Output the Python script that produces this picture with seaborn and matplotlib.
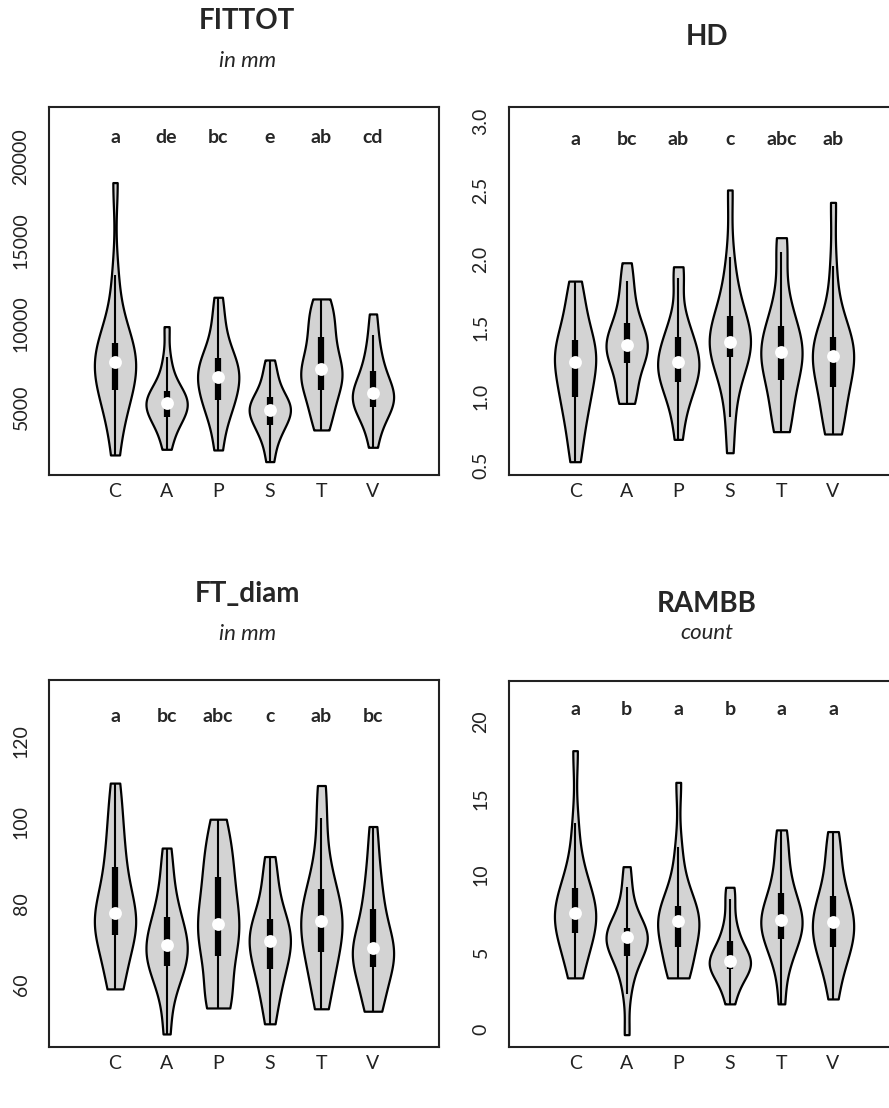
import numpy as np
import pandas as pd
import matplotlib
matplotlib.use("Agg")
import matplotlib.pyplot as plt
import matplotlib.cbook as cbook
import seaborn as sns

groups = ["C", "A", "P", "S", "T", "V"]

# sample values per group (order C, A, P, S, T, V)
fittot = [
    [2146, 3900, 4900, 5600, 6038, 6500, 6900, 7300, 7735, 7950, 8200, 8500, 8832, 9500, 10600, 12924, 18453],
    [2485, 3300, 3900, 4200, 4441, 4700, 4950, 5100, 5240, 5400, 5600, 5800, 5998, 6400, 7000, 8000, 9830],
    [2445, 3800, 4600, 5100, 5439, 5800, 6200, 6550, 6836, 7100, 7400, 7700, 7934, 8500, 9300, 10300, 11587],
    [1747, 2700, 3300, 3700, 3942, 4250, 4500, 4700, 4840, 5000, 5200, 5400, 5639, 6000, 6500, 7100, 7834],
    [3643, 4300, 5000, 5600, 6038, 6500, 6800, 7050, 7275, 7600, 8100, 8700, 9232, 9800, 10400, 11000, 11487],
    [2605, 3700, 4300, 4700, 5040, 5250, 5450, 5650, 5838, 6050, 6350, 6750, 7196, 7700, 8400, 9300, 10589],
]
hd = [
    [0.529, 0.70, 0.82, 0.92, 0.996, 1.06, 1.12, 1.19, 1.25, 1.29, 1.33, 1.37, 1.411, 1.50, 1.60, 1.71, 1.839],
    [0.952, 0.99, 1.07, 1.17, 1.247, 1.29, 1.32, 1.35, 1.375, 1.40, 1.44, 1.49, 1.537, 1.62, 1.72, 1.84, 1.972],
    [0.691, 0.88, 0.98, 1.05, 1.109, 1.15, 1.19, 1.22, 1.25, 1.28, 1.32, 1.38, 1.431, 1.50, 1.58, 1.86, 1.943],
    [0.594, 0.855, 1.05, 1.18, 1.286, 1.32, 1.35, 1.375, 1.395, 1.42, 1.46, 1.52, 1.586, 1.68, 1.80, 2.016, 2.5],
    [0.747, 0.80, 0.92, 1.03, 1.121, 1.18, 1.24, 1.29, 1.327, 1.36, 1.40, 1.46, 1.515, 1.62, 1.75, 2.05, 2.154],
    [0.730, 0.77, 0.88, 0.98, 1.068, 1.14, 1.20, 1.25, 1.298, 1.33, 1.36, 1.40, 1.431, 1.52, 1.65, 1.95, 2.41],
]
ft_diam = [
    [59.0, 61.5, 66.0, 70.0, 72.2, 73.5, 74.8, 76.2, 77.7, 79.5, 82.0, 85.5, 89.0, 93.0, 97.5, 103.0, 109.7],
    [47.9, 56.0, 60.5, 62.8, 64.6, 66.0, 67.3, 68.6, 69.9, 71.3, 72.9, 74.7, 76.7, 79.5, 83.0, 88.0, 93.7],
    [54.3, 54.9, 57.0, 61.5, 67.0, 69.5, 71.5, 73.3, 75.0, 77.5, 80.0, 83.0, 86.5, 89.5, 92.5, 96.5, 100.8],
    [50.4, 55.5, 59.0, 61.8, 63.9, 66.0, 67.8, 69.3, 70.7, 72.0, 73.4, 74.8, 76.3, 79.0, 82.5, 87.0, 91.6],
    [54.1, 58.5, 62.5, 65.5, 68.0, 70.5, 72.5, 74.2, 75.7, 77.3, 79.0, 81.2, 83.6, 87.0, 92.5, 101.0, 109.1],
    [53.5, 54.8, 58.5, 62.0, 64.4, 65.8, 67.0, 68.0, 69.1, 70.5, 72.5, 75.5, 78.7, 82.0, 86.0, 91.5, 99.0],
]
rambb = [
    [3.32, 4.0, 5.0, 5.7, 6.22, 6.6, 6.95, 7.25, 7.52, 7.8, 8.2, 8.65, 9.17, 9.9, 11.0, 13.37, 18.09],
    [-0.37, 2.3, 3.6, 4.3, 4.77, 5.2, 5.5, 5.75, 5.96, 6.1, 6.25, 6.4, 6.57, 7.2, 8.0, 9.2, 10.55],
    [3.32, 3.4, 3.8, 4.6, 5.35, 5.8, 6.2, 6.6, 7.0, 7.2, 7.45, 7.7, 8.02, 8.8, 9.8, 11.8, 16.03],
    [1.63, 2.5, 3.1, 3.55, 3.9, 4.05, 4.2, 4.3, 4.4, 4.6, 4.9, 5.3, 5.74, 6.3, 7.1, 8.45, 9.21],
    [1.63, 3.8, 4.8, 5.4, 5.85, 6.3, 6.65, 6.9, 7.09, 7.4, 7.8, 8.3, 8.82, 9.6, 10.6, 11.9, 12.94],
    [1.95, 3.4, 4.3, 4.9, 5.31, 5.8, 6.2, 6.6, 6.93, 7.3, 7.7, 8.2, 8.67, 9.5, 10.5, 11.7, 12.83],
]

fittot_letters = ["a", "de", "bc", "e", "ab", "cd"]
hd_letters = ["a", "bc", "ab", "c", "abc", "ab"]
ft_diam_letters = ["a", "bc", "abc", "c", "ab", "bc"]
rambb_letters = ["a", "b", "a", "b", "a", "a"]

fittot_ticks = [5000, 10000, 15000, 20000]
hd_ticks = [0.5, 1.0, 1.5, 2.0, 2.5, 3.0]
ft_diam_ticks = [60, 80, 100, 120]
rambb_ticks = [0, 5, 10, 15, 20]

sns.set_style("white")
plt.rcParams["font.family"] = ["Lato", "DejaVu Sans"]

fig = plt.figure(figsize=(8.89, 11.08), dpi=100)

panels = [
    # data, letters, ticks, fmt, ylim, rect, title, subtitle, title_y, sub_y, letter_y
    (fittot, fittot_letters, fittot_ticks, "{:.0f}", (946, 22976),
     [0.0551, 0.5713, 0.4387, 0.3321], "FITTOT", "in mm", 1.234, 1.125, 0.918),
    (hd, hd_letters, hd_ticks, "{:.1f}", (0.4325, 3.1015),
     [0.5726, 0.5713, 0.4387, 0.3321], "HD", None, 1.190, None, 0.913),
    (ft_diam, ft_diam_letters, ft_diam_ticks, "{:.0f}", (44.7, 135.1),
     [0.0551, 0.0551, 0.4387, 0.3312], "FT_diam", "in mm", 1.234, 1.125, 0.900),
    (rambb, rambb_letters, rambb_ticks, "{:.0f}", (-1.17, 22.62),
     [0.5726, 0.0551, 0.4387, 0.3303], "RAMBB", "count", 1.210, 1.131, 0.923),
]

for data, letters, ticks, fmt, ylim, rect, title, sub, ty, sy, ly in panels:
    ax = fig.add_axes(rect)
    df = pd.DataFrame({
        "group": np.repeat(groups, [len(v) for v in data]),
        "value": np.concatenate(data),
    })
    sns.violinplot(data=df, x="group", y="value", order=groups, cut=0,
                   density_norm="width", width=0.8, inner=None,
                   color="#d3d3d3", saturation=1, linecolor="black",
                   linewidth=1.6, bw_adjust=0.8, ax=ax)

    # inner box: whiskers, IQR box and white median dot
    for i, vals in enumerate(data):
        st = cbook.boxplot_stats(np.array(vals))[0]
        ax.vlines(i, st["whislo"], st["whishi"], color="black", lw=1.5, zorder=3)
        ax.vlines(i, st["q1"], st["q3"], color="black", lw=4.5, zorder=3)
        ax.scatter(i, st["med"], s=85, color="white", zorder=4, linewidths=0)

    for i, lab in enumerate(letters):
        ax.text(i, ly, lab, transform=ax.get_xaxis_transform(), ha="center",
                va="center", fontsize=14, fontweight="bold")

    ax.set_xlim(-1.28, 6.28)
    ax.set_ylim(*ylim)
    ax.set_yticks(ticks)
    ax.set_yticklabels([fmt.format(t) for t in ticks], rotation=90, va="center")
    ax.set_xlabel("")
    ax.set_ylabel("")
    ax.tick_params(axis="both", direction="in", length=9, width=1.3,
                   labelsize=14, colors="#222222")
    ax.tick_params(axis="y", pad=14)
    ax.tick_params(axis="x", pad=6)
    for sp in ax.spines.values():
        sp.set_visible(True)
        sp.set_color("#222222")
        sp.set_linewidth(1.5)

    ax.text(0.508, ty, title, transform=ax.transAxes, ha="center", va="center",
            fontsize=20, fontweight="bold")
    if sub:
        ax.text(0.508, sy, sub, transform=ax.transAxes, ha="center", va="center",
                fontsize=16, style="italic")

fig.savefig("out.png", dpi=100)
